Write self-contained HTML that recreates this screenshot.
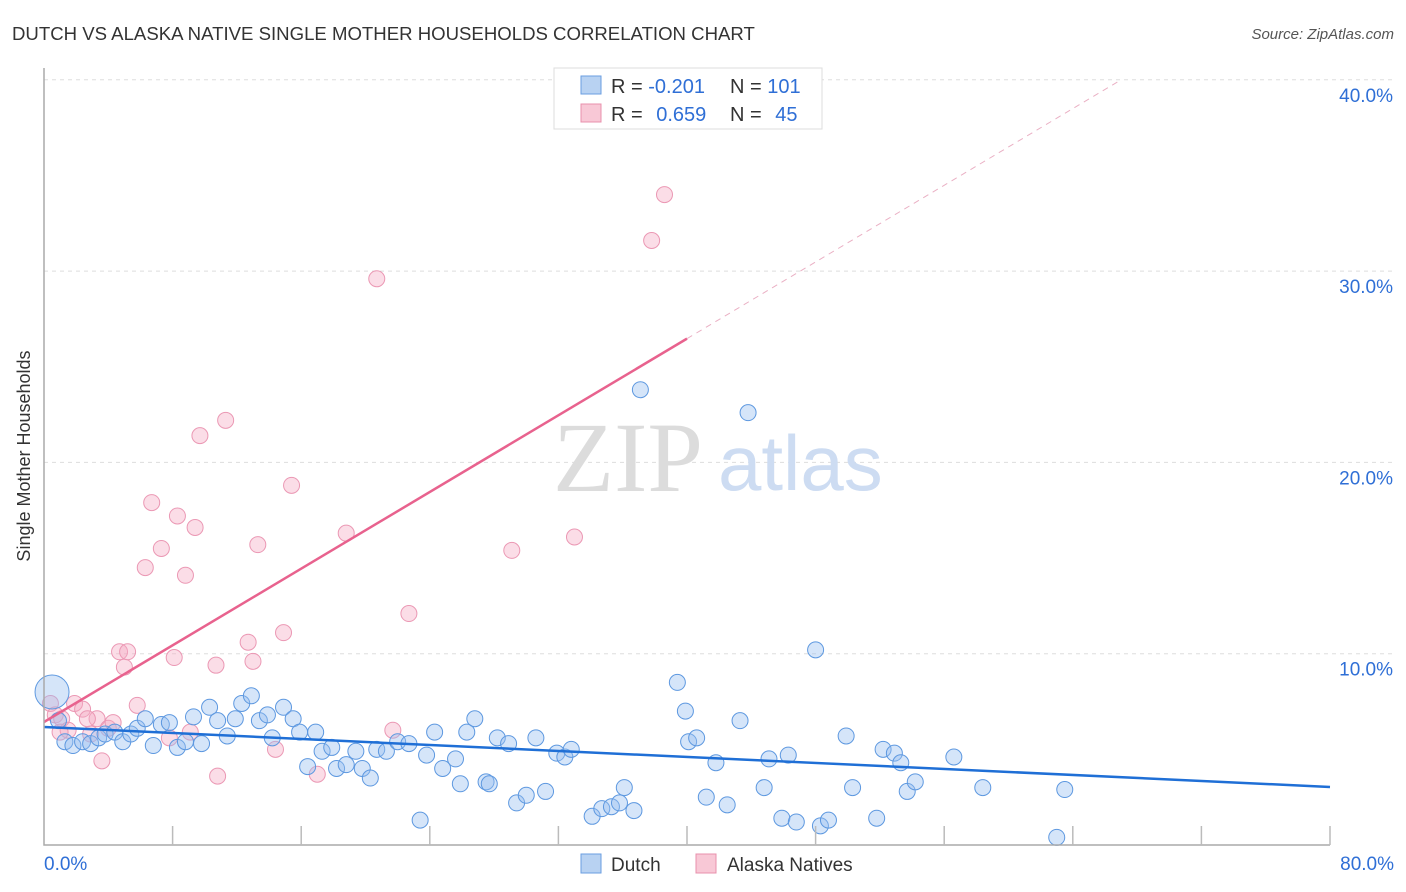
<!DOCTYPE html>
<html><head><meta charset="utf-8"><style>
body{margin:0;background:#fff;font-family:"Liberation Sans",sans-serif;}
svg{display:block}
</style></head><body>
<svg id="chart" width="1406" height="892" viewBox="0 0 1406 892">
<text x="12" y="40" font-size="18.6" fill="#333">DUTCH VS ALASKA NATIVE SINGLE MOTHER HOUSEHOLDS CORRELATION CHART</text>
<text x="1394" y="39" font-size="15" fill="#555" font-style="italic" text-anchor="end">Source: ZipAtlas.com</text>
<g id="grid"></g>
<text x="553" y="491" font-size="100" fill="#dcdcdc" font-family="Liberation Serif,serif">ZIP</text>
<text x="718" y="490" font-size="78" fill="#cddcf2">atlas</text>
<g id="pts"></g>
<g id="lines"></g>
<g id="axes"></g>
<text x="30" y="456" font-size="18" fill="#333" text-anchor="middle" transform="rotate(-90 30 456)">Single Mother Households</text>
<g>
<rect x="554" y="68" width="268" height="61" fill="#fff" stroke="#ddd"/>
<rect x="581" y="76" width="20" height="18" fill="#b8d2f2" stroke="#6a9ee0"/>
<rect x="581" y="104" width="20" height="18" fill="#f8c8d6" stroke="#e890ac"/>
<text x="611" y="93" font-size="20" fill="#333">R = <tspan fill="#2f6fd6">-0.201</tspan></text>
<text x="730" y="93" font-size="20" fill="#333">N = <tspan fill="#2f6fd6">101</tspan></text>
<text x="611" y="121" font-size="20" fill="#333">R = <tspan fill="#2f6fd6" dx="8">0.659</tspan></text>
<text x="730" y="121" font-size="20" fill="#333">N = <tspan fill="#2f6fd6" dx="8">45</tspan></text>
</g>
<g>
<rect x="581" y="854" width="20" height="19" fill="#b8d2f2" stroke="#6a9ee0"/>
<text x="611" y="871" font-size="19" fill="#333">Dutch</text>
<rect x="696" y="854" width="20" height="19" fill="#f8c8d6" stroke="#e890ac"/>
<text x="727" y="871" font-size="19" fill="#333">Alaska Natives</text>
</g>
</svg>
<script>
const dutchX=[0.5,0.9,1.3,1.8,2.4,2.9,3.4,3.8,4.4,4.9,5.4,5.8,6.3,6.8,7.3,7.8,8.3,8.8,9.3,9.8,10.3,10.8,11.4,11.9,12.3,12.9,13.4,13.9,14.2,14.9,15.5,15.9,16.4,16.9,17.3,17.9,18.2,18.8,19.4,19.8,20.3,20.7,21.3,22.0,22.7,23.8,24.3,24.8,25.6,25.9,26.3,26.8,27.5,27.7,28.2,28.9,29.4,30.0,30.6,31.2,31.9,32.4,32.8,34.1,34.7,35.3,35.8,36.1,36.7,37.1,39.4,39.9,40.1,40.6,41.2,41.8,42.5,43.3,43.8,44.8,45.1,45.9,46.3,46.8,48.0,48.3,48.8,49.9,50.3,51.8,52.2,52.9,53.3,53.7,54.2,56.6,58.4,63.0,63.5,23.4];
const dutchY=[8.0,6.5,5.4,5.2,5.4,5.3,5.6,5.8,5.9,5.4,5.8,6.1,6.6,5.2,6.3,6.4,5.1,5.4,6.7,5.3,7.2,6.5,5.7,6.6,7.4,7.8,6.5,6.8,5.6,7.2,6.6,5.9,4.1,5.9,4.9,5.1,4.0,4.2,4.9,4.0,3.5,5.0,4.9,5.4,5.3,4.7,5.9,4.0,4.5,3.2,5.9,6.6,3.3,3.2,5.6,5.3,2.2,2.6,5.6,2.8,4.8,4.6,5.0,1.5,1.9,2.0,2.2,3.0,1.8,23.8,8.5,7.0,5.4,5.6,2.5,4.3,2.1,6.5,22.6,3.0,4.5,1.4,4.7,1.2,10.2,1.0,1.3,5.7,3.0,1.4,5.0,4.8,4.3,2.8,3.3,4.6,3.0,0.4,2.9,1.3];
const alaskaX=[0.4,0.7,1.1,1.5,1.9,2.4,2.9,3.3,3.6,4.0,4.3,4.7,5.0,5.2,5.8,6.3,6.7,7.3,7.8,8.1,8.3,8.8,9.1,9.4,9.7,10.7,10.8,11.3,12.7,13.0,13.3,14.4,14.9,15.4,17.0,18.8,20.7,21.7,22.7,29.1,33.0,37.8,38.6,1.0,2.7];
const alaskaY=[7.4,6.8,6.6,6.0,7.4,7.1,5.8,6.6,4.4,6.1,6.4,10.1,9.3,10.1,7.3,14.5,17.9,15.5,5.6,9.8,17.2,14.1,5.9,16.6,21.4,9.4,3.6,22.2,10.6,9.6,15.7,5.0,11.1,18.8,3.7,16.3,29.6,6.0,12.1,15.4,16.1,31.6,34.0,5.9,6.6];
const yTicks=[10,20,30,40];
const yTickLabels=["10.0%","20.0%","30.0%","40.0%"];
const xTickLabels=["0.0%","80.0%"];
const dutchTrend=[6.17,-0.0392];
const alaskaTrend=[6.43,0.501];

const NS="http://www.w3.org/2000/svg";
const X0=44,X1=1330,Y0=845,PXY=19.13;
const sx=v=>X0+(v/80)*(X1-X0);
const sy=v=>Y0-v*PXY;
function mk(tag,attrs,parent){const e=document.createElementNS(NS,tag);for(const k in attrs)e.setAttribute(k,attrs[k]);parent.appendChild(e);return e;}
const grid=document.getElementById('grid'),axes=document.getElementById('axes'),pts=document.getElementById('pts'),lines=document.getElementById('lines');
yTicks.forEach((t,i)=>{
  const l=mk('line',{x1:X0,x2:1394,y1:sy(t),y2:sy(t),stroke:'#ddd','stroke-dasharray':'4,4'},grid);
  
  
  const tx=mk('text',{x:1393,y:sy(t)+22,'font-size':19,fill:'#2f6fd6','text-anchor':'end'},axes);
  tx.textContent=yTickLabels[i];
  
  
});
const ax=mk('path',{d:`M${X0},68V${Y0}H${X1}`,stroke:'#aaa',fill:'none','stroke-width':1.5},axes);


for(let i=1;i<=10;i++){
  const x=sx(i*8);
  const tk=mk('line',{x1:x,x2:x,y1:Y0-19,y2:Y0,stroke:'#bbb','stroke-width':1.5},axes);
  
  
}
[[X0,'start'],[1394,'end']].forEach((p,i)=>{
  const tx=mk('text',{x:p[0],y:870,'font-size':19,fill:'#2f6fd6','text-anchor':p[1]},axes);
  tx.textContent=xTickLabels[i];
  
  
});
alaskaX.forEach((v,i)=>{
  const c=mk('circle',{cx:sx(v),cy:sy(alaskaY[i]),r:8,fill:'rgba(244,170,195,0.4)',stroke:'#eb98b4','stroke-width':1},pts);
  
  
});
dutchX.forEach((v,i)=>{
  const c=mk('circle',{cx:sx(v),cy:sy(dutchY[i]),r:i===0?17:8,fill:'rgba(150,190,240,0.4)',stroke:'#5d98e0','stroke-width':1},pts);
  
  
});
const dl=mk('line',{x1:sx(0),y1:sy(dutchTrend[0]),x2:sx(80),y2:sy(dutchTrend[0]+80*dutchTrend[1]),stroke:'#1f6fd6','stroke-width':2.5},lines);


const xs=40,xe=(40-alaskaTrend[0])/alaskaTrend[1];
const al=mk('line',{x1:sx(0),y1:sy(alaskaTrend[0]),x2:sx(xs),y2:sy(alaskaTrend[0]+xs*alaskaTrend[1]),stroke:'#e8628e','stroke-width':2.5},lines);


const ad=mk('line',{x1:sx(xs),y1:sy(alaskaTrend[0]+xs*alaskaTrend[1]),x2:sx(xe),y2:sy(40),stroke:'#eab0c4','stroke-width':1,'stroke-dasharray':'6,5'},lines);


</script>
</body></html>
